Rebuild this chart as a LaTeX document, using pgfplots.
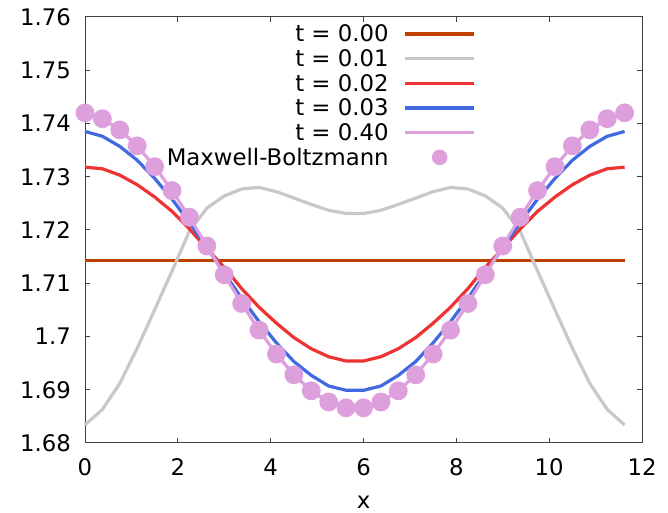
\documentclass[border=0pt]{standalone}
\usepackage{pgfplots}
\pgfplotsset{compat=1.18}
\usepackage{pgfplotstable}
\usepackage{fontspec}
\setmainfont{DejaVu Sans}
\definecolor{cOrange}{HTML}{C04000}
\definecolor{cGray}{HTML}{C8C8C8}
\definecolor{cRed}{HTML}{EE3333}
\definecolor{cBlue}{HTML}{4169E1}
\definecolor{cPlum}{HTML}{DDA0DD}
\definecolor{cFrame}{HTML}{404040}
\newcommand\ff{\fontsize{22.8}{27}\selectfont}
\pgfplotsset{
  mylegimg/.style={legend image code/.code={\draw[mark repeat=2,mark phase=2,##1] plot coordinates {(0pt,0pt) (34.5pt,0pt) (69pt,0pt)};}},
  mymarkimg/.style={legend image code/.code={\path[draw=none] (0pt,0pt) -- (69pt,0pt);\pgfinterruptboundingbox\fill[cPlum, draw=none] (34.5pt,0pt) circle[radius=7.8pt];\endpgfinterruptboundingbox}}
}

\pgfplotstableread{
x      ta     tb     tc     td     te     mb
0.000  1.7143 1.6834 1.7318 1.7385 1.7420 1.7420
0.375  1.7143 1.6863 1.7315 1.7376 1.7409 1.7409
0.750  1.7143 1.6912 1.7303 1.7357 1.7388 1.7388
1.125  1.7143 1.6978 1.7285 1.7331 1.7358 1.7358
1.500  1.7143 1.7050 1.7262 1.7297 1.7319 1.7319
1.875  1.7143 1.7123 1.7235 1.7258 1.7274 1.7274
2.250  1.7143 1.7198 1.7202 1.7214 1.7224 1.7224
2.625  1.7143 1.7241 1.7165 1.7167 1.7170 1.7170
3.000  1.7143 1.7264 1.7130 1.7119 1.7116 1.7116
3.375  1.7143 1.7277 1.7090 1.7072 1.7062 1.7062
3.750  1.7143 1.7280 1.7055 1.7028 1.7012 1.7012
4.125  1.7143 1.7272 1.7025 1.6988 1.6967 1.6967
4.500  1.7143 1.7260 1.6998 1.6953 1.6928 1.6928
4.875  1.7143 1.7248 1.6977 1.6927 1.6898 1.6898
5.250  1.7143 1.7237 1.6962 1.6907 1.6877 1.6877
5.625  1.7143 1.7231 1.6954 1.6899 1.6866 1.6866
6.000  1.7143 1.7231 1.6954 1.6899 1.6866 1.6866
6.375  1.7143 1.7237 1.6962 1.6907 1.6877 1.6877
6.750  1.7143 1.7248 1.6977 1.6927 1.6898 1.6898
7.125  1.7143 1.7260 1.6998 1.6953 1.6928 1.6928
7.500  1.7143 1.7272 1.7025 1.6988 1.6967 1.6967
7.875  1.7143 1.7280 1.7055 1.7028 1.7012 1.7012
8.250  1.7143 1.7277 1.7090 1.7072 1.7062 1.7062
8.625  1.7143 1.7264 1.7130 1.7119 1.7116 1.7116
9.000  1.7143 1.7241 1.7165 1.7167 1.7170 1.7170
9.375  1.7143 1.7198 1.7202 1.7214 1.7224 1.7224
9.750  1.7143 1.7123 1.7235 1.7258 1.7274 1.7274
10.125 1.7143 1.7050 1.7262 1.7297 1.7319 1.7319
10.500 1.7143 1.6978 1.7285 1.7331 1.7358 1.7358
10.875 1.7143 1.6912 1.7303 1.7357 1.7388 1.7388
11.250 1.7143 1.6863 1.7315 1.7376 1.7409 1.7409
11.625 1.7143 1.6834 1.7318 1.7385 1.7420 1.7420
}\data

\begin{document}
\begin{tikzpicture}
\useasboundingbox (0,0) rectangle (668pt,513pt);
\begin{axis}[
  at={(85pt,70pt)}, anchor=south west,
  scale only axis, width=557pt, height=426pt,
  xmin=0, xmax=12, ymin=1.68, ymax=1.76,
  xtick={0,2,4,6,8,10,12},
  ytick={1.68,1.69,1.70,1.71,1.72,1.73,1.74,1.75,1.76},
  yticklabels={1.68,1.69,1.7,1.71,1.72,1.73,1.74,1.75,1.76},
  /pgf/number format/assume math mode=true,
  tick align=inside, major tick length=5pt,
  axis line style={cFrame, line width=1pt},
  tick style={cFrame, line width=1pt},
  tick label style={font=\ff, inner sep=0pt},
  xticklabel style={anchor=base, yshift=-32pt},
  yticklabel style={anchor=east, xshift=-14pt},
  xlabel={x},
  xlabel style={at={(axis description cs:0.5,0)}, anchor=base, yshift=-65pt, font=\ff, inner sep=0pt},
  clip=false,
  legend cell align=right,
  legend plot pos=right,
  legend style={draw=none, fill=none, inner sep=0pt, font=\ff,
    at={(rel axis cs:0.702,0.982)}, anchor=north east,
    row sep=6.2pt, column sep=15pt, nodes={inner sep=0pt}},
  mylegimg,
  every axis plot/.append style={line width=3.2pt, line join=round},
]
\addplot[cOrange, no marks] table[x=x, y=ta] {\data};
\addlegendentry{t = 0.00}
\addplot[cGray, no marks] table[x=x, y=tb] {\data};
\addlegendentry{t = 0.01}
\addplot[cRed, no marks] table[x=x, y=tc] {\data};
\addlegendentry{t = 0.02}
\addplot[cBlue, no marks] table[x=x, y=td] {\data};
\addlegendentry{t = 0.03}
\addplot[cPlum, no marks] table[x=x, y=te] {\data};
\addlegendentry{t = 0.40}
\addplot[cPlum, only marks, mark=*, mark size=7.8pt, mark options={draw=none, fill=cPlum}, forget plot]
  table[x=x, y=mb] {\data};
\addlegendimage{mymarkimg}
\addlegendentry{Maxwell-Boltzmann}
\end{axis}
\end{tikzpicture}
\end{document}
